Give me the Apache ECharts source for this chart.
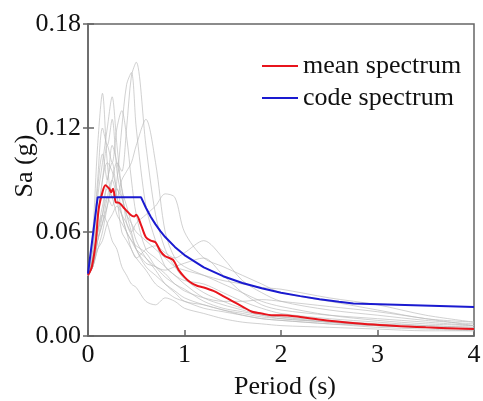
<!DOCTYPE html>
<html>
<head>
<meta charset="utf-8">
<script src="https://cdn.jsdelivr.net/npm/echarts@6/dist/echarts.min.js"></script>
<style>
  html, body { margin: 0; padding: 0; background: #fff; }
  #chart { width: 483px; height: 401px; }
</style>
</head>
<body>
<div id="chart"></div>
<script>
// periods shared by the individual ground motion records (s)
const periods = [0, 0.05, 0.1, 0.15, 0.2, 0.25, 0.3, 0.35, 0.4, 0.45, 0.5, 0.6, 0.7, 0.8, 0.9, 1.0, 1.2, 1.4, 1.6, 1.8, 2.0, 2.5, 3.0, 3.5, 4.0]

// individual record spectra, Sa (g)
const gm1  = [0.035, 0.040, 0.050, 0.060, 0.075, 0.090, 0.100, 0.095, 0.120, 0.150, 0.158, 0.110, 0.070, 0.050, 0.040, 0.033, 0.025, 0.020, 0.016, 0.013, 0.011, 0.008, 0.006, 0.005, 0.004]
const gm2  = [0.035, 0.045, 0.060, 0.070, 0.080, 0.075, 0.090, 0.120, 0.145, 0.152, 0.120, 0.075, 0.055, 0.040, 0.035, 0.030, 0.022, 0.018, 0.015, 0.012, 0.010, 0.008, 0.006, 0.005, 0.004]
const gm3  = [0.035, 0.060, 0.110, 0.140, 0.100, 0.080, 0.085, 0.070, 0.060, 0.050, 0.045, 0.038, 0.030, 0.026, 0.022, 0.020, 0.016, 0.014, 0.012, 0.010, 0.009, 0.007, 0.005, 0.004, 0.003]
const gm4  = [0.035, 0.050, 0.080, 0.100, 0.120, 0.138, 0.110, 0.085, 0.075, 0.065, 0.055, 0.045, 0.038, 0.030, 0.025, 0.020, 0.018, 0.015, 0.013, 0.011, 0.010, 0.008, 0.006, 0.005, 0.004]
const gm5  = [0.035, 0.040, 0.055, 0.065, 0.075, 0.085, 0.080, 0.090, 0.095, 0.100, 0.110, 0.125, 0.100, 0.060, 0.045, 0.040, 0.035, 0.030, 0.025, 0.020, 0.017, 0.012, 0.009, 0.007, 0.006]
const gm6  = [0.035, 0.045, 0.070, 0.090, 0.110, 0.100, 0.120, 0.130, 0.115, 0.090, 0.070, 0.050, 0.045, 0.040, 0.035, 0.032, 0.030, 0.025, 0.020, 0.016, 0.013, 0.010, 0.008, 0.006, 0.005]
const gm7  = [0.035, 0.040, 0.050, 0.055, 0.065, 0.070, 0.075, 0.070, 0.065, 0.060, 0.065, 0.070, 0.075, 0.082, 0.080, 0.060, 0.045, 0.040, 0.035, 0.030, 0.025, 0.020, 0.015, 0.010, 0.008]
const gm8  = [0.035, 0.040, 0.055, 0.070, 0.090, 0.100, 0.080, 0.060, 0.055, 0.050, 0.045, 0.050, 0.052, 0.048, 0.045, 0.048, 0.055, 0.045, 0.032, 0.025, 0.020, 0.015, 0.012, 0.009, 0.007]
const gm9  = [0.035, 0.045, 0.060, 0.070, 0.065, 0.055, 0.050, 0.040, 0.035, 0.030, 0.028, 0.020, 0.018, 0.022, 0.020, 0.016, 0.013, 0.010, 0.008, 0.007, 0.006, 0.005, 0.004, 0.003, 0.003]
const gm10 = [0.035, 0.045, 0.065, 0.090, 0.100, 0.095, 0.085, 0.080, 0.070, 0.065, 0.060, 0.055, 0.050, 0.045, 0.040, 0.038, 0.035, 0.032, 0.030, 0.028, 0.027, 0.022, 0.018, 0.012, 0.008]
const gm11 = [0.035, 0.055, 0.090, 0.120, 0.110, 0.125, 0.095, 0.080, 0.070, 0.060, 0.050, 0.040, 0.035, 0.030, 0.026, 0.022, 0.018, 0.015, 0.012, 0.010, 0.009, 0.007, 0.006, 0.005, 0.004]
const gm12 = [0.035, 0.050, 0.085, 0.105, 0.090, 0.110, 0.100, 0.085, 0.065, 0.058, 0.050, 0.042, 0.040, 0.036, 0.030, 0.027, 0.020, 0.016, 0.014, 0.012, 0.011, 0.009, 0.007, 0.006, 0.005]
const gm13 = [0.035, 0.042, 0.060, 0.075, 0.085, 0.080, 0.070, 0.065, 0.060, 0.055, 0.050, 0.045, 0.040, 0.038, 0.040, 0.042, 0.045, 0.035, 0.025, 0.018, 0.015, 0.012, 0.010, 0.008, 0.006]
const gm14 = [0.035, 0.040, 0.055, 0.065, 0.080, 0.090, 0.080, 0.070, 0.060, 0.055, 0.052, 0.048, 0.040, 0.034, 0.030, 0.026, 0.022, 0.020, 0.020, 0.021, 0.020, 0.017, 0.014, 0.010, 0.006]
const records = [gm1, gm2, gm3, gm4, gm5, gm6, gm7, gm8, gm9, gm10, gm11, gm12, gm13, gm14]

// mean spectrum
const meanPeriods = [0, 0.04, 0.08, 0.11, 0.15, 0.18, 0.22, 0.24, 0.26, 0.29, 0.31, 0.34, 0.37, 0.44, 0.48, 0.5, 0.55, 0.6, 0.65, 0.7, 0.75, 0.8, 0.88, 0.94, 1.0, 1.06, 1.13, 1.2, 1.3, 1.4, 1.5, 1.6, 1.7, 1.8, 1.9, 2.0, 2.2, 2.5, 2.9, 3.5, 4.0]
const meanSa = [0.035, 0.040, 0.054, 0.073, 0.083, 0.087, 0.085, 0.083, 0.085, 0.077, 0.077, 0.076, 0.074, 0.070, 0.069, 0.070, 0.064, 0.057, 0.055, 0.054, 0.049, 0.046, 0.044, 0.038, 0.034, 0.031, 0.029, 0.028, 0.026, 0.023, 0.020, 0.017, 0.014, 0.013, 0.012, 0.012, 0.011, 0.0088, 0.0068, 0.005, 0.004]

// code design spectrum
const codePeriods = [0, 0.1, 0.55, 0.6, 0.65, 0.7, 0.75, 0.8, 0.9, 1.0, 1.2, 1.4, 1.6, 1.8, 2.0, 2.2, 2.4, 2.6, 2.75, 4.0]
const codeSa = [0.036, 0.080, 0.080, 0.074, 0.0688, 0.0644, 0.0605, 0.0571, 0.0514, 0.0467, 0.0396, 0.0345, 0.0306, 0.0275, 0.0250, 0.0230, 0.0212, 0.0198, 0.0188, 0.0168]

const xTicks = [0, 1, 2, 3, 4]
const yTicks = [0, 0.06, 0.12, 0.18]

const font = '"Liberation Serif", "Times New Roman", serif'
const axisColor = '#666'

const pairs = (xs, ys) => xs.map((x, i) => [x, ys[i]])

let series = records.map((r, i) => ({
    name: 'record' + (i + 1),
    type: 'line',
    data: pairs(periods, r),
    showSymbol: false,
    symbol: 'none',
    smooth: 0.3,
    lineStyle: { color: 'rgba(185, 185, 185, 0.65)', width: 1 },
    z: 2,
}))
series.push({
    name: 'mean spectrum',
    type: 'line',
    data: pairs(meanPeriods, meanSa),
    symbol: 'none',
    smooth: 0.3,
    lineStyle: { color: '#e8141c', width: 2 },
    itemStyle: { color: '#e8141c' },
    z: 3,
})
series.push({
    name: 'code spectrum',
    type: 'line',
    data: pairs(codePeriods, codeSa),
    symbol: 'none',
    lineStyle: { color: '#1a1ad0', width: 2 },
    itemStyle: { color: '#1a1ad0' },
    z: 4,
})

const chart = echarts.init(document.getElementById('chart'), null, { renderer: 'canvas' })
chart.setOption({
    animation: false,
    textStyle: { fontFamily: font },
    grid: {
        left: 88,
        right: 9,
        top: 24,
        bottom: 65,
        containLabel: false,
        outerBoundsMode: 'none',
        show: true,
        borderColor: axisColor,
        borderWidth: 1.5,
    },
    legend: {
        data: [
            { name: 'mean spectrum', icon: 'rect' },
            { name: 'code spectrum', icon: 'rect' },
        ],
        orient: 'vertical',
        left: 257,
        top: 48,
        itemWidth: 36,
        itemHeight: 2,
        itemGap: 6,
        textStyle: { fontFamily: font, fontSize: 26, color: '#111', lineHeight: 26 },
    },
    xAxis: {
        type: 'value',
        min: xTicks[0],
        max: xTicks[xTicks.length - 1],
        interval: 1,
        name: 'Period (s)',
        nameLocation: 'middle',
        nameGap: 38,
        nameMoveOverlap: false,
        nameTextStyle: { fontFamily: font, fontSize: 26, color: '#111', padding: [0, 0, 0, 8] },
        axisLine: { lineStyle: { color: axisColor, width: 1.5 } },
        axisTick: { inside: true, length: 6, lineStyle: { color: axisColor, width: 1.5 } },
        axisLabel: { fontFamily: font, fontSize: 26, color: '#111', margin: 6 },
        splitLine: { show: false },
    },
    yAxis: [{
        type: 'value',
        min: yTicks[0],
        max: yTicks[yTicks.length - 1],
        interval: 0.06,
        name: 'Sa (g)',
        nameLocation: 'middle',
        nameGap: 50,
        nameMoveOverlap: false,
        nameTextStyle: { fontFamily: font, fontSize: 26, color: '#111', padding: [0, 0, 0, 28] },
        axisLine: { show: true, lineStyle: { color: axisColor, width: 1.5 } },
        axisTick: { show: true, inside: true, length: 6, lineStyle: { color: axisColor, width: 1.5 } },
        axisLabel: { fontFamily: font, fontSize: 26, color: '#111', margin: 7, formatter: v => v.toFixed(2) },
        splitLine: { show: false },
    }, {
        // second copy only for the outward half of the y ticks
        type: 'value',
        position: 'left',
        min: yTicks[0],
        max: yTicks[yTicks.length - 1],
        interval: 0.06,
        axisLine: { show: false },
        axisTick: { show: true, inside: false, length: 5, lineStyle: { color: axisColor, width: 1.5 } },
        axisLabel: { show: false },
        splitLine: { show: false },
    }],
    series: series,
})
</script>
</body>
</html>
